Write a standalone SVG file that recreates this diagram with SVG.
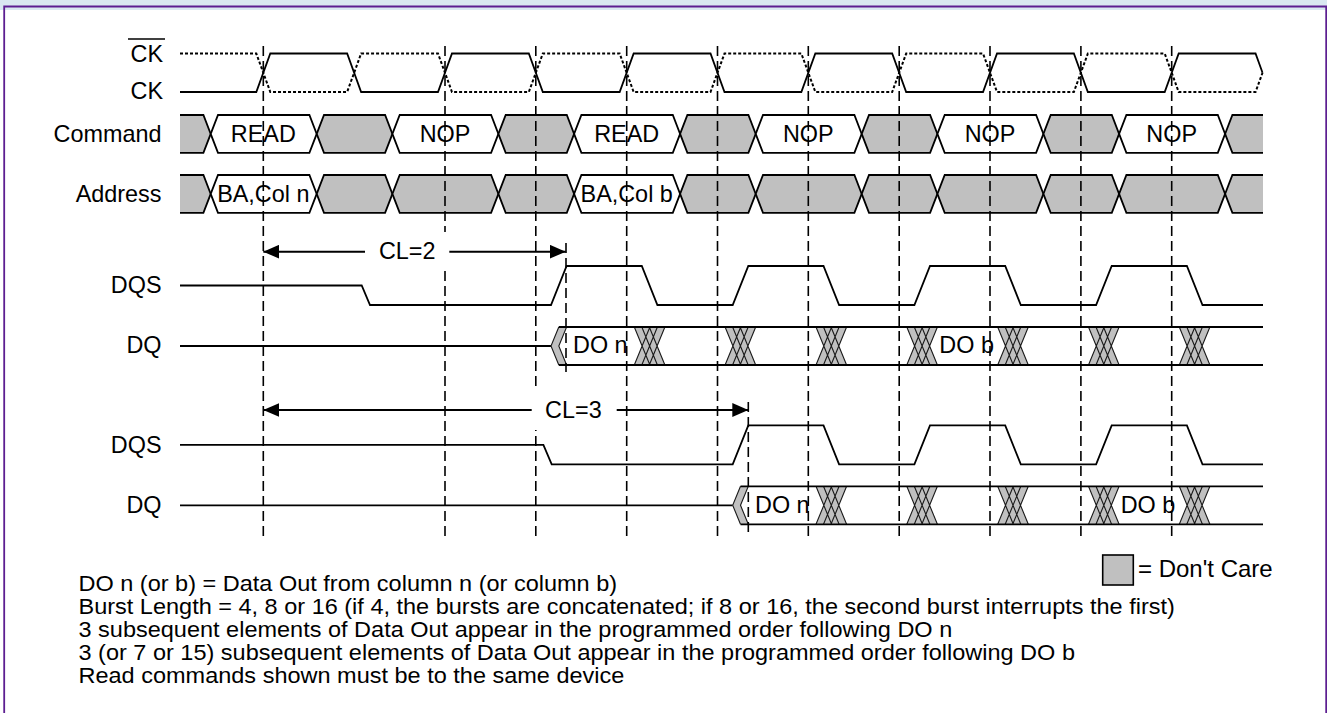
<svg xmlns="http://www.w3.org/2000/svg" xmlns:xlink="http://www.w3.org/1999/xlink" width="1327" height="713" viewBox="0 0 1327 713">
<style>
text{font-family:"Liberation Sans",Arial,Helvetica,sans-serif;fill:#000}
.lbl{font-size:23.4px;text-anchor:end}
.bt{font-size:23.4px;text-anchor:middle}
.dt{font-size:23.4px}
.note{font-size:23.5px}
.sig{fill:none;stroke:#000;stroke-width:1.8}
.dot{fill:none;stroke:#000;stroke-width:2;stroke-dasharray:3,2}
.g{fill:#c0c0c0;stroke:#000;stroke-width:1.8}
.w{fill:#fff;stroke:#000;stroke-width:1.8}
.dash{fill:none;stroke:#000;stroke-width:1.6;stroke-dasharray:10,5}
.arr{fill:none;stroke:#000;stroke-width:2}
.hl{fill:none;stroke:#1a1a1a;stroke-width:1.1}
</style>
<defs>
<g id="hatch">
<polygon points="-15.3,0 15.3,0 7.5,19 15.3,38 -15.3,38 -7.5,19" fill="#c0c0c0"/>
<path class="hl" d="M-15.3,0 L0.3,38 M0.3,0 L-15.3,38 M-7.8,0 L7.8,38 M7.8,0 L-7.8,38 M-0.3,0 L15.3,38 M15.3,0 L-0.3,38"/>
</g>
<g id="chev">
<polygon points="0,19 7.8,0 15.6,0 7.8,19 15.6,38 7.8,38" fill="#c0c0c0"/>
<path class="hl" stroke-width="1.3" d="M7.8,0 L0,19 L7.8,38 M15.6,0 L7.8,19 L15.6,38"/>
</g>
<marker id="ah" markerUnits="userSpaceOnUse" markerWidth="17" markerHeight="14" refX="16" refY="7" orient="auto">
<path d="M0,0 L16,7 L0,14 Z" fill="#000"/>
</marker>
</defs>

<rect x="0" y="0" width="1327" height="713" fill="#fff"/>
<rect x="0" y="0" width="1327" height="10" fill="#d9e8f1"/>
<path d="M4.2,713 V6.5 H1326.2 V713" fill="none" stroke="#5c1e91" stroke-width="1.8"/>

<g id="ckbar">
<text class="lbl" x="163" y="61.5">CK</text>
<line x1="128" y1="39" x2="165" y2="39" stroke="#000" stroke-width="1.4"/>
<path class="dot" d="M180,53.5 H256.3 L270.3,92 H347.14 L361.14,53.5 H437.98 L451.98,92 H528.82 L542.82,53.5 H619.66 L633.66,92 H710.5 L724.5,53.5 H801.34 L815.34,92 H892.18 L906.18,53.5 H983.02 L997.02,92 H1073.86 L1087.86,53.5 H1164.7 L1178.7,92 H1255.54 L1262.54,72.75"/>
</g>

<g id="ck">
<text class="lbl" x="163" y="99.3">CK</text>
<path class="sig" d="M180,92 H256.3 L270.3,53.5 H347.14 L361.14,92 H437.98 L451.98,53.5 H528.82 L542.82,92 H619.66 L633.66,53.5 H710.5 L724.5,92 H801.34 L815.34,53.5 H892.18 L906.18,92 H983.02 L997.02,53.5 H1073.86 L1087.86,92 H1164.7 L1178.7,53.5 H1255.54 L1262.54,72.75"/>
</g>

<g id="command">
<text class="lbl" x="161.5" y="141.7">Command</text>
<path class="g" d="M180,115 H203.4 L210.7,133.9 L203.4,152.8 H180"/>
<path class="w" d="M210.7,133.9 L218,115 H309.4 L316.7,133.9 L309.4,152.8 H218 Z"/>
<path class="g" d="M316.7,133.9 L324,115 H385.1 L392.4,133.9 L385.1,152.8 H324 Z"/>
<path class="w" d="M392.4,133.9 L399.7,115 H491.1 L498.4,133.9 L491.1,152.8 H399.7 Z"/>
<path class="g" d="M498.4,133.9 L505.7,115 H566.8 L574.1,133.9 L566.8,152.8 H505.7 Z"/>
<path class="w" d="M574.1,133.9 L581.4,115 H672.8 L680.1,133.9 L672.8,152.8 H581.4 Z"/>
<path class="g" d="M680.1,133.9 L687.4,115 H748.4 L755.7,133.9 L748.4,152.8 H687.4 Z"/>
<path class="w" d="M755.7,133.9 L763,115 H854.4 L861.7,133.9 L854.4,152.8 H763 Z"/>
<path class="g" d="M861.7,133.9 L869,115 H930.1 L937.4,133.9 L930.1,152.8 H869 Z"/>
<path class="w" d="M937.4,133.9 L944.7,115 H1036.1 L1043.4,133.9 L1036.1,152.8 H944.7 Z"/>
<path class="g" d="M1043.4,133.9 L1050.7,115 H1111.8 L1119.1,133.9 L1111.8,152.8 H1050.7 Z"/>
<path class="w" d="M1119.1,133.9 L1126.4,115 H1217.8 L1225.1,133.9 L1217.8,152.8 H1126.4 Z"/>
<path class="g" d="M1263,115 H1232.4 L1225.1,133.9 L1232.4,152.8 H1263"/>
<text class="bt" x="263.3" y="141.7">READ</text>
<text class="bt" x="445" y="141.7">NOP</text>
<text class="bt" x="626.7" y="141.7">READ</text>
<text class="bt" x="808.3" y="141.7">NOP</text>
<text class="bt" x="990" y="141.7">NOP</text>
<text class="bt" x="1171.7" y="141.7">NOP</text>
</g>

<g id="address" transform="translate(0,60)">
<text class="lbl" x="161.5" y="141.7">Address</text>
<path class="g" d="M180,115 H203.4 L210.7,133.9 L203.4,152.8 H180"/>
<path class="w" d="M210.7,133.9 L218,115 H309.4 L316.7,133.9 L309.4,152.8 H218 Z"/>
<path class="g" d="M316.7,133.9 L324,115 H385.1 L392.4,133.9 L385.1,152.8 H324 Z"/>
<path class="g" d="M392.4,133.9 L399.7,115 H491.1 L498.4,133.9 L491.1,152.8 H399.7 Z"/>
<path class="g" d="M498.4,133.9 L505.7,115 H566.8 L574.1,133.9 L566.8,152.8 H505.7 Z"/>
<path class="w" d="M574.1,133.9 L581.4,115 H672.8 L680.1,133.9 L672.8,152.8 H581.4 Z"/>
<path class="g" d="M680.1,133.9 L687.4,115 H748.4 L755.7,133.9 L748.4,152.8 H687.4 Z"/>
<path class="g" d="M755.7,133.9 L763,115 H854.4 L861.7,133.9 L854.4,152.8 H763 Z"/>
<path class="g" d="M861.7,133.9 L869,115 H930.1 L937.4,133.9 L930.1,152.8 H869 Z"/>
<path class="g" d="M937.4,133.9 L944.7,115 H1036.1 L1043.4,133.9 L1036.1,152.8 H944.7 Z"/>
<path class="g" d="M1043.4,133.9 L1050.7,115 H1111.8 L1119.1,133.9 L1111.8,152.8 H1050.7 Z"/>
<path class="g" d="M1119.1,133.9 L1126.4,115 H1217.8 L1225.1,133.9 L1217.8,152.8 H1126.4 Z"/>
<path class="g" d="M1263,115 H1232.4 L1225.1,133.9 L1232.4,152.8 H1263"/>
<text class="bt" x="263.3" y="141.7">BA,Col n</text>
<text class="bt" x="626.7" y="141.7">BA,Col b</text>
</g>

<g id="dqs1">
<text class="lbl" x="161.5" y="293.3">DQS</text>
<path class="sig" d="M180,285.5 H361.7 L370,305 H551 L566.6,266 H641.8 L657.4,305 H732.7 L748.3,266 H823.5 L839.1,305 H914.4 L930,266 H1005.2 L1020.8,305 H1096.1 L1111.7,266 H1186.9 L1202.5,305 H1263"/>
</g>

<g id="dq1">
<text class="lbl" x="161.5" y="353.3">DQ</text>
<path class="sig" d="M180,346 H551"/>
<use xlink:href="#chev" x="551" y="327"/>
<use xlink:href="#hatch" x="649.6" y="327"/>
<use xlink:href="#hatch" x="740.4" y="327"/>
<use xlink:href="#hatch" x="831.3" y="327"/>
<use xlink:href="#hatch" x="922.1" y="327"/>
<use xlink:href="#hatch" x="1013" y="327"/>
<use xlink:href="#hatch" x="1103.8" y="327"/>
<use xlink:href="#hatch" x="1194.6" y="327"/>
<path class="sig" d="M558.8,327 H1263 M558.8,365 H1263"/>
<text class="dt" x="573" y="353.3">DO n</text>
<text class="dt" x="939.3" y="353.3">DO b</text>
</g>

<g id="dqs2" transform="translate(0,159.3)">
<text class="lbl" x="161.5" y="293.3">DQS</text>
<path class="sig" d="M180,285.5 H543.4 L551.7,305 H732.7 L748.3,266 H823.5 L839.1,305 H914.4 L930,266 H1005.2 L1020.8,305 H1096.1 L1111.7,266 H1186.9 L1202.5,305 H1263"/>
</g>

<g id="dq2" transform="translate(0,159.3)">
<text class="lbl" x="161.5" y="353.3">DQ</text>
<path class="sig" d="M180,346 H732.7"/>
<use xlink:href="#chev" x="732.7" y="327"/>
<use xlink:href="#hatch" x="831.3" y="327"/>
<use xlink:href="#hatch" x="922.1" y="327"/>
<use xlink:href="#hatch" x="1013" y="327"/>
<use xlink:href="#hatch" x="1103.8" y="327"/>
<use xlink:href="#hatch" x="1194.6" y="327"/>
<path class="sig" d="M740.5,327 H1263 M740.5,365 H1263"/>
<text class="dt" x="755" y="353.3">DO n</text>
<text class="dt" x="1120.7" y="353.3">DO b</text>
</g>

<g id="timing-lines">
<path class="dash" d="M263.3,46 V536 M445,46 V536 M535.8,46 V536 M626.7,46 V536 M717.5,46 V536 M808.3,46 V536 M899.2,46 V536 M990,46 V536 M1080.9,46 V536 M1171.7,46 V536 M566,243 V372 M748.3,402 V536"/>
</g>

<g id="connectors">
<g id="cl2">
<path class="arr" d="M365,251.7 H263.3" marker-end="url(#ah)"/>
<path class="arr" d="M449.3,251.7 H565.7" marker-end="url(#ah)"/>
<rect x="366" y="232" width="82" height="39" fill="#fff"/>
<text class="bt" x="407.2" y="259.3">CL=2</text>
</g>
<g id="cl3">
<path class="arr" d="M531.7,410 H263.3" marker-end="url(#ah)"/>
<path class="arr" d="M616.7,410 H748.3" marker-end="url(#ah)"/>
<rect x="532.5" y="391" width="83.5" height="39" fill="#fff"/>
<text class="bt" x="573.4" y="418">CL=3</text>
</g>
</g>

<g id="legend">
<rect x="1102.7" y="555" width="30.6" height="30" fill="#c0c0c0" stroke="#000" stroke-width="1.6"/>
<text x="1138" y="576.7" style="font-size:24px">= Don't Care</text>
</g>

<g id="notes">
<text class="note" transform="translate(78.5,591) scale(1,0.93)">DO n (or b) = Data Out from column n (or column b)</text>
<text class="note" transform="translate(78.5,614) scale(1,0.93)">Burst Length = 4, 8 or 16 (if 4, the bursts are concatenated; if 8 or 16, the second burst interrupts the first)</text>
<text class="note" transform="translate(78.5,637) scale(1,0.93)">3 subsequent elements of Data Out appear in the programmed order following DO n</text>
<text class="note" transform="translate(78.5,660) scale(1,0.93)">3 (or 7 or 15) subsequent elements of Data Out appear in the programmed order following DO b</text>
<text class="note" transform="translate(78.5,683) scale(1,0.93)">Read commands shown must be to the same device</text>
</g>
</svg>
